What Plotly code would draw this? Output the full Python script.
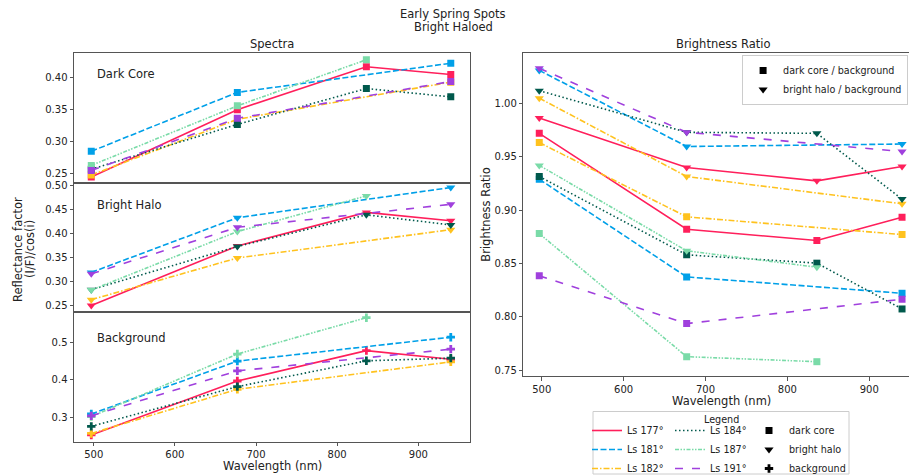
import plotly.graph_objects as go

W, H = 909, 475

# ---------------- data ----------------
WAVELENGTHS = [497, 677, 836, 940]
SEASONS = ["Ls 177°", "Ls 181°", "Ls 182°", "Ls 184°", "Ls 187°", "Ls 191°"]

# rows follow SEASONS order; None = no observation in that filter
DARK_CORE = [
    [0.245, 0.350, 0.417, 0.405],
    [0.285, 0.377, None, 0.4225],
    [0.248, 0.335, None, 0.393],
    [0.257, 0.327, 0.383, 0.370],
    [0.263, 0.356, 0.428, None],
    [0.255, 0.3365, None, 0.394],
]
BRIGHT_HALO = [
    [0.250, 0.374, 0.444, 0.4265],
    [0.319, 0.433, None, 0.496],
    [0.262, 0.349, None, 0.408],
    [0.283, 0.373, 0.439, 0.418],
    [0.282, 0.404, 0.4785, None],
    [0.316, 0.413, None, 0.461],
]
BACKGROUND = [
    [0.253, 0.397, 0.478, 0.455],
    [0.309, 0.450, None, 0.514],
    [0.257, 0.375, None, 0.448],
    [0.276, 0.382, 0.451, 0.458],
    [0.302, 0.469, 0.566, None],
    [0.304, 0.424, None, 0.482],
]
CORE_RATIO = [
    [0.972, 0.8822, 0.8716, 0.8935],
    [0.929, 0.8375, None, 0.8222],
    [0.9634, 0.8938, None, 0.8772],
    [0.9316, 0.8582, 0.8504, 0.8075],
    [0.8781, 0.7628, 0.7581, None],
    [0.8385, 0.7938, None, 0.8166],
]
HALO_RATIO = [
    [0.9863, 0.940, 0.9275, 0.941],
    [1.031, 0.9597, None, 0.962],
    [1.005, 0.9316, None, 0.906],
    [1.012, 0.973, 0.972, 0.9104],
    [0.942, 0.862, 0.8466, None],
    [1.033, 0.973, None, 0.955],
]
REGION_LABELS = ["Dark Core", "Bright Halo", "Background"]
TYPE_LABELS = ["dark core", "bright halo", "background"]
RATIO_LABELS = ["dark core / background", "bright halo / background"]

# ---------------- styles ----------------
COLORS = ["#FF1F5B", "#00A0E8", "#FFC21E", "#00594C", "#7ADBA8", "#A040DD"]
DASHES = ["solid", "6px,2.5px", "6px,2px,1.5px,2px", "1.5px,2.5px",
          "4px,1.5px,1.5px,1.5px,1.5px,1.5px", "8px,9px"]
SYMBOLS = ["square", "triangle-down", "cross"]
SIZES = {"square": 7, "triangle-down": 8, "cross": 7}
FONT = "DejaVu Sans"
AX = "#555555"
TXT = "#222222"


def px_x(p):
    return p / W


def px_y(p):
    return 1 - p / H


fig = go.Figure()

# spectra panels
panel_axes = [("x", "y"), ("x2", "y2"), ("x3", "y3")]
for region, (xa, ya), sym in zip([DARK_CORE, BRIGHT_HALO, BACKGROUND], panel_axes, SYMBOLS):
    for i, vals in enumerate(region):
        fig.add_trace(go.Scatter(
            x=WAVELENGTHS, y=vals, xaxis=xa, yaxis=ya, mode="lines+markers",
            connectgaps=True, showlegend=False,
            line=dict(color=COLORS[i], width=1.6, dash=DASHES[i]),
            marker=dict(symbol=sym, size=SIZES[sym], color=COLORS[i]),
        ))

# ratio panel
for ratio, sym in zip([CORE_RATIO, HALO_RATIO], SYMBOLS[:2]):
    for i, vals in enumerate(ratio):
        fig.add_trace(go.Scatter(
            x=WAVELENGTHS, y=vals, xaxis="x4", yaxis="y4", mode="lines+markers",
            connectgaps=True, showlegend=False,
            line=dict(color=COLORS[i], width=1.6, dash=DASHES[i]),
            marker=dict(symbol=sym, size=SIZES[sym], color=COLORS[i]),
        ))

# legend entries (legend-only traces)
for i, name in enumerate(SEASONS):
    fig.add_trace(go.Scatter(
        x=[None], y=[None], mode="lines", name=name,
        line=dict(color=COLORS[i], width=1.6, dash=DASHES[i]),
        legend="legend" if i < 3 else "legend2", xaxis="x4", yaxis="y4",
    ))
for sym, name in zip(SYMBOLS, TYPE_LABELS):
    fig.add_trace(go.Scatter(
        x=[None], y=[None], mode="markers", name=name,
        marker=dict(symbol=sym, size=SIZES[sym], color="black"),
        legend="legend3", xaxis="x4", yaxis="y4",
    ))
for sym, name in zip(SYMBOLS[:2], RATIO_LABELS):
    fig.add_trace(go.Scatter(
        x=[None], y=[None], mode="markers", name=name,
        marker=dict(symbol=sym, size=SIZES[sym], color="black"),
        legend="legend4", xaxis="x4", yaxis="y4",
    ))

# ---------------- axes ----------------
LEFT_X = [px_x(74), px_x(470)]
RIGHT_X = [px_x(523.3), 1.0]
common = dict(showgrid=False, zeroline=False, showline=True, linecolor=AX, linewidth=1,
              ticks="outside", ticklen=3.5, tickcolor=AX,
              tickfont=dict(family=FONT, size=10, color=TXT))
hidden = {**common, "ticks": ""}

xl_range = [475.7, 963.7]
fig.update_layout(
    xaxis=dict(domain=LEFT_X, anchor="y", range=xl_range, mirror=True, showticklabels=False, **hidden),
    xaxis2=dict(domain=LEFT_X, anchor="y2", range=xl_range, mirror=True, showticklabels=False, **hidden),
    xaxis3=dict(domain=LEFT_X, anchor="y3", range=xl_range, mirror=True, tickvals=[500, 600, 700, 800, 900], **common),
    xaxis4=dict(domain=RIGHT_X, anchor="y4", range=[477.5, 948.5], mirror=True, tickvals=[500, 600, 700, 800, 900], **common),
    yaxis=dict(domain=[px_y(182.7), px_y(53.3)], anchor="x", range=[0.236, 0.438], mirror=True,
               tickvals=[0.25, 0.30, 0.35, 0.40], tickformat=".2f", **common),
    yaxis2=dict(domain=[px_y(311.7), px_y(182.7)], anchor="x2", range=[0.237, 0.506], mirror=True,
                tickvals=[0.25, 0.30, 0.35, 0.40, 0.45, 0.50], tickformat=".2f", **common),
    yaxis3=dict(domain=[px_y(441.7), px_y(311.7)], anchor="x3", range=[0.235, 0.582], mirror=True,
                tickvals=[0.3, 0.4, 0.5], tickformat=".1f", **common),
    yaxis4=dict(domain=[px_y(376), px_y(53.3)], anchor="x4", range=[0.7447, 1.047], mirror=False,
                tickvals=[0.75, 0.80, 0.85, 0.90, 0.95, 1.00], tickformat=".2f", **common),
)

# ---------------- legends ----------------
LEG_FONT = dict(family=FONT, size=9.6, color=TXT)
leg_top = px_y(416)
fig.update_layout(
    legend=dict(x=px_x(587), y=leg_top, xanchor="left", yanchor="top", font=LEG_FONT,
                bgcolor="rgba(0,0,0,0)", borderwidth=0, tracegroupgap=0),
    legend2=dict(x=px_x(670), y=leg_top, xanchor="left", yanchor="top", font=LEG_FONT,
                 bgcolor="rgba(0,0,0,0)", borderwidth=0, tracegroupgap=0),
    legend3=dict(x=px_x(749), y=leg_top, xanchor="left", yanchor="top", font=LEG_FONT,
                 bgcolor="rgba(0,0,0,0)", borderwidth=0, tracegroupgap=0),
    legend4=dict(x=0.999, y=px_y(55), xanchor="right", yanchor="top", font=LEG_FONT,
                 bgcolor="white", bordercolor="#cccccc", borderwidth=1, tracegroupgap=0),
)

fig.add_shape(type="rect", xref="paper", yref="paper",
              x0=px_x(593), x1=px_x(849), y0=px_y(474), y1=px_y(411.5),
              line=dict(color="#cccccc", width=1), fillcolor="white", layer="below")

# ---------------- text ----------------
def label(text, x, y, size=11.5, angle=0, xanchor="center"):
    fig.add_annotation(text=text, x=px_x(x), y=px_y(y), xref="paper", yref="paper",
                       showarrow=False, xanchor=xanchor, yanchor="middle", textangle=angle,
                       font=dict(family=FONT, size=size, color=TXT))

label("Early Spring Spots", 453, 14)
label("Bright Haloed", 453, 27)
label("Spectra", 272, 44)
label("Brightness Ratio", 723, 44)
label("Reflectance factor", 17.5, 249.5, angle=-90)
label("(I/F)/cos(i)", 29.5, 249.5, angle=-90)
label("Brightness Ratio", 486, 214.7, angle=-90)
label("Wavelength (nm)", 272, 466)
label("Wavelength (nm)", 721, 401)
label("Legend", 721, 419, size=9.6)
for text, y in zip(REGION_LABELS, [74, 205, 337.7]):
    label(text, 95, y, xanchor="left")

fig.update_layout(
    width=W, height=H, margin=dict(l=0, r=0, t=0, b=0, autoexpand=False),
    paper_bgcolor="white", plot_bgcolor="white",
    font=dict(family=FONT, color=TXT),
)

fig.write_html("out.html")
